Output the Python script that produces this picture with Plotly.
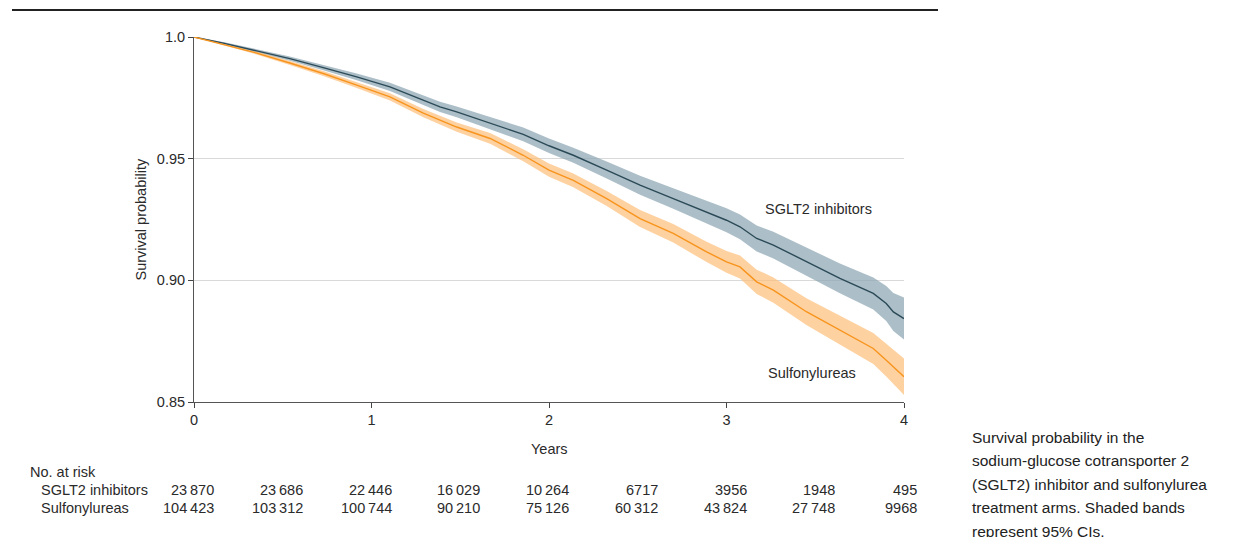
import plotly.graph_objects as go

# ---- data ----
years = [0, 0.165, 0.353, 0.54, 0.728, 0.917, 1.104, 1.292, 1.386, 1.48, 1.668, 1.855, 2.0, 2.137,
         2.325, 2.513, 2.70, 2.888, 3.0, 3.076, 3.17, 3.264, 3.45, 3.639, 3.827, 3.90, 3.94, 4.0]

sglt2_surv = [1.0, 0.9975, 0.9943, 0.9911, 0.9874, 0.9836, 0.9795, 0.974, 0.9713, 0.9692, 0.9647, 0.960,
              0.9553, 0.9514, 0.9453, 0.9391, 0.9336, 0.9281, 0.9247, 0.922, 0.9172, 0.9145, 0.9076,
              0.9008, 0.8946, 0.8905, 0.887, 0.8843]
sglt2_upper = [1.0, 0.9979, 0.995, 0.992, 0.9885, 0.985, 0.9812, 0.976, 0.9734, 0.9714, 0.9672, 0.9628,
               0.9583, 0.9545, 0.9488, 0.943, 0.9378, 0.9327, 0.9296, 0.9271, 0.9225, 0.92, 0.9134,
               0.9069, 0.9012, 0.8977, 0.8948, 0.8929]
sglt2_lower = [1.0, 0.9971, 0.9936, 0.9902, 0.9863, 0.9822, 0.9778, 0.972, 0.9692, 0.967, 0.9622, 0.9572,
               0.9523, 0.9483, 0.9418, 0.9352, 0.9294, 0.9235, 0.9198, 0.9169, 0.9119, 0.909, 0.9018,
               0.8947, 0.888, 0.8833, 0.8792, 0.8757]

su_surv = [1.0, 0.997, 0.9934, 0.9893, 0.985, 0.9802, 0.9754, 0.9687, 0.9658, 0.963, 0.9583, 0.9514,
           0.9453, 0.9411, 0.9336, 0.9254, 0.9193, 0.9117, 0.9076, 0.9055, 0.8994, 0.896, 0.8871,
           0.8795, 0.872, 0.8672, 0.8645, 0.8604]
su_upper = [1.0, 0.9973, 0.994, 0.9901, 0.986, 0.9814, 0.9769, 0.9704, 0.9676, 0.9649, 0.9605, 0.9539,
            0.948, 0.9439, 0.9367, 0.9289, 0.9231, 0.9159, 0.9121, 0.9102, 0.9044, 0.9012, 0.8926,
            0.8854, 0.8784, 0.8739, 0.8715, 0.8679]
su_lower = [1.0, 0.9967, 0.9928, 0.9885, 0.984, 0.979, 0.9739, 0.967, 0.964, 0.9611, 0.9561, 0.9489,
            0.9426, 0.9383, 0.9305, 0.9219, 0.9155, 0.9075, 0.9031, 0.9008, 0.8944, 0.8908, 0.8816,
            0.8736, 0.8656, 0.8605, 0.8575, 0.8529]

risk_times = [0, 0.5, 1, 1.5, 2, 2.5, 3, 3.5, 4]
risk_sglt2 = ["23\u2009870", "23\u2009686", "22\u2009446", "16\u2009029", "10\u2009264", "6717", "3956", "1948", "495"]
risk_su = ["104\u2009423", "103\u2009312", "100\u2009744", "90\u2009210", "75\u2009126", "60\u2009312", "43\u2009824", "27\u2009748", "9968"]

y_ticks = [0.85, 0.90, 0.95, 1.0]
y_tick_labels = ["0.85", "0.90", "0.95", "1.0"]
x_ticks = [0, 1, 2, 3, 4]

caption_lines = ["Survival probability in the", "sodium-glucose cotransporter 2",
                 "(SGLT2) inhibitor and sulfonylurea", "treatment arms. Shaded bands",
                 "represent 95% CIs."]

# ---- styling ----
FONT = "Liberation Sans"
FS = 14.5
TXT = "#2a2a2a"
SG_LINE = "#2b4a57"
SG_BAND = "rgba(140,165,178,0.72)"
SU_LINE = "#f7941d"
SU_BAND = "rgba(253,190,120,0.7)"

OFF = 8  # page body margin
W, H = 1237, 537
L, R, T, B = 194 - OFF, 1237 - (904 - OFF), 37 - OFF, 537 - (402 - OFF)
PW, PH = W - L - R, H - T - B


def px(xp):
    return (xp - OFF - L) / PW


def py(yp):
    return (H - B - (yp - OFF)) / PH


fig = go.Figure()

for lo, up, band in [(sglt2_lower, sglt2_upper, SG_BAND), (su_lower, su_upper, SU_BAND)]:
    fig.add_trace(go.Scatter(x=years, y=lo, mode="lines", line=dict(width=0), hoverinfo="skip", showlegend=False))
    fig.add_trace(go.Scatter(x=years, y=up, mode="lines", line=dict(width=0), fill="tonexty",
                             fillcolor=band, hoverinfo="skip", showlegend=False))

fig.add_trace(go.Scatter(x=years, y=sglt2_surv, mode="lines", line=dict(color=SG_LINE, width=1.4),
                         name="SGLT2 inhibitors", showlegend=False))
fig.add_trace(go.Scatter(x=years, y=su_surv, mode="lines", line=dict(color=SU_LINE, width=1.4),
                         name="Sulfonylureas", showlegend=False))

fig.update_layout(
    width=W, height=H,
    margin=dict(l=L, r=R, t=T, b=B),
    paper_bgcolor="white", plot_bgcolor="white",
    font=dict(family=FONT, size=FS, color=TXT),
    showlegend=False,
    xaxis=dict(range=[0, 4], tickvals=x_ticks, ticks="outside", ticklen=5, tickcolor="#444",
               showline=True, linecolor="#555", linewidth=1, showgrid=False, zeroline=False,
               tickfont=dict(size=FS, color=TXT), title=None),
    yaxis=dict(range=[0.85, 1.0], tickvals=y_ticks, ticktext=y_tick_labels, ticks="outside", ticklen=5,
               tickcolor="#444", showline=True, linecolor="#555", linewidth=1, showgrid=True,
               gridcolor="#d9d9d9", gridwidth=1.2, zeroline=False, tickfont=dict(size=FS, color=TXT),
               title=None),
)

ann = []
ann.append(dict(text="Years", x=2, y=py(449), xref="x", yref="paper", showarrow=False,
                font=dict(size=FS, color=TXT), xanchor="center", yanchor="middle"))
ann.append(dict(text="Survival probability", x=px(140), y=py(219.5), xref="paper", yref="paper",
                showarrow=False, textangle=-90, font=dict(size=FS, color=TXT),
                xanchor="center", yanchor="middle"))
ann.append(dict(text="SGLT2 inhibitors", x=3.52, y=0.9292, xref="x", yref="y", showarrow=False,
                font=dict(size=FS, color=TXT)))
ann.append(dict(text="Sulfonylureas", x=3.48, y=0.862, xref="x", yref="y", showarrow=False,
                font=dict(size=FS, color=TXT)))
ann.append(dict(text="No. at risk", x=px(28), y=py(472), xref="paper", yref="paper", showarrow=False,
                xanchor="left", yanchor="middle", font=dict(size=FS, color=TXT)))
ann.append(dict(text="SGLT2 inhibitors", x=px(39), y=py(490), xref="paper", yref="paper", showarrow=False,
                xanchor="left", yanchor="middle", font=dict(size=FS, color=TXT)))
ann.append(dict(text="Sulfonylureas", x=px(39), y=py(508), xref="paper", yref="paper", showarrow=False,
                xanchor="left", yanchor="middle", font=dict(size=FS, color=TXT)))
for i, t in enumerate(risk_times):
    shift = 15 if t == 4 else 22
    for val, ypix in [(risk_sglt2[i], 490), (risk_su[i], 508)]:
        ann.append(dict(text=val, x=t, y=py(ypix), xref="x", yref="paper", showarrow=False,
                        xanchor="right", yanchor="middle", xshift=shift, font=dict(size=FS, color=TXT)))
for k, line in enumerate(caption_lines):
    ann.append(dict(text=line, x=px(970), y=py(437 + 23.5 * k), xref="paper", yref="paper",
                    showarrow=False, xanchor="left", yanchor="middle", align="left",
                    font=dict(size=15.5, color="#222")))
fig.update_layout(annotations=ann)

# top rule (as high as the figure allows)
fig.add_shape(type="line", xref="paper", yref="paper", x0=px(12), x1=px(938), y0=py(10), y1=py(10),
              line=dict(color="#222", width=2))

fig.write_html("out.html")
